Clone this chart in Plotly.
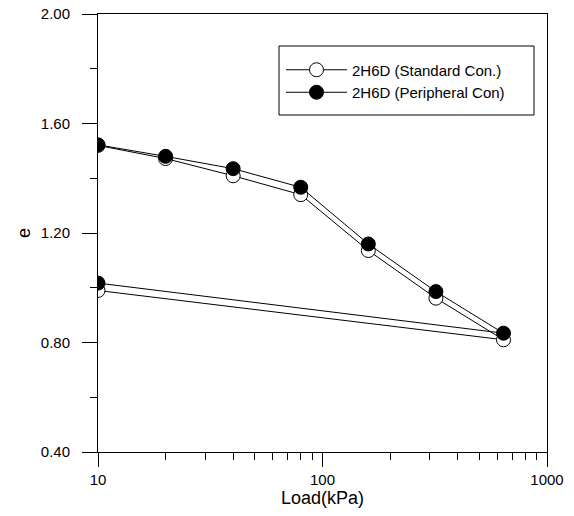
import plotly.graph_objects as go

load = [10, 20, 40, 80, 160, 320, 640, 10]
e_standard = [1.520, 1.472, 1.409, 1.340, 1.136, 0.962, 0.810, 0.990]
e_peripheral = [1.522, 1.480, 1.435, 1.367, 1.160, 0.986, 0.834, 1.017]
names = ["2H6D (Standard Con.)", "2H6D (Peripheral Con)"]

x_major = [10, 100, 1000]
x_minor = [20, 30, 40, 50, 60, 70, 80, 90, 200, 300, 400, 500, 600, 700, 800, 900]
y_major = [0.4, 0.8, 1.2, 1.6, 2.0]
y_minor = [0.6, 1.0, 1.4, 1.8]

FONT = "Liberation Sans, Arial, sans-serif"

FW, FH = 574, 516
# target plot area on screen: left 98, right 547, top 14, bottom 452
L, R, T, B = 98, 547, 14, 452
W, H = R - L, B - T

def px_x(p):
    return (p - L) / W

def px_y(p):
    return (B - p) / H

fig = go.Figure()
fig.add_trace(go.Scatter(
    x=load, y=e_standard, name=names[0], mode="lines+markers",
    line=dict(color="black", width=1),
    marker=dict(symbol="circle", size=14, color="white", line=dict(color="black", width=1)),
))
fig.add_trace(go.Scatter(
    x=load, y=e_peripheral, name=names[1], mode="lines+markers",
    line=dict(color="black", width=1),
    marker=dict(symbol="circle", size=14, color="black", line=dict(color="black", width=1)),
))

# legend frame
fig.add_shape(type="rect", xref="paper", yref="paper",
              x0=px_x(279), x1=px_x(534), y0=px_y(115), y1=px_y(46),
              line=dict(color="black", width=1), fillcolor="white", layer="below")

fig.update_layout(
    width=FW, height=FH,
    margin=dict(l=L, r=FW - R, t=T, b=FH - B, autoexpand=False),
    paper_bgcolor="white", plot_bgcolor="white",
    font=dict(family=FONT, size=15, color="black"),
    showlegend=True,
    legend=dict(
        x=px_x(281), y=px_y(53.5), xanchor="left", yanchor="top",
        borderwidth=0, bgcolor="rgba(0,0,0,0)",
        font=dict(size=15), tracegroupgap=0, itemwidth=61,
    ),
    xaxis=dict(
        type="log", range=[1, 3], automargin=False,
        tickvals=x_major, ticktext=[str(v) for v in x_major],
        ticks="outside", ticklen=14, tickcolor="black", tickwidth=1,
        minor=dict(tickvals=x_minor, ticks="outside", ticklen=7, tickcolor="black", tickwidth=1, showgrid=False),
        showline=True, linecolor="black", linewidth=1, mirror=True,
        showgrid=False, zeroline=False,
        title=dict(text="Load(kPa)", standoff=2),
    ),
    yaxis=dict(
        range=[0.4, 2.0], automargin=False,
        tickvals=y_major, tickformat=".2f",
        ticks="outside", ticklen=15, tickcolor="black", tickwidth=1, ticklabelstandoff=9,
        minor=dict(tickvals=y_minor, ticks="outside", ticklen=7, tickcolor="black", tickwidth=1, showgrid=False),
        showline=True, linecolor="black", linewidth=1, mirror=True,
        showgrid=False, zeroline=False,
        title=dict(text="e", standoff=5),
    ),
)

fig.write_html("out.html", config={"displayModeBar": False},
               post_script="document.body.style.margin='0';")
